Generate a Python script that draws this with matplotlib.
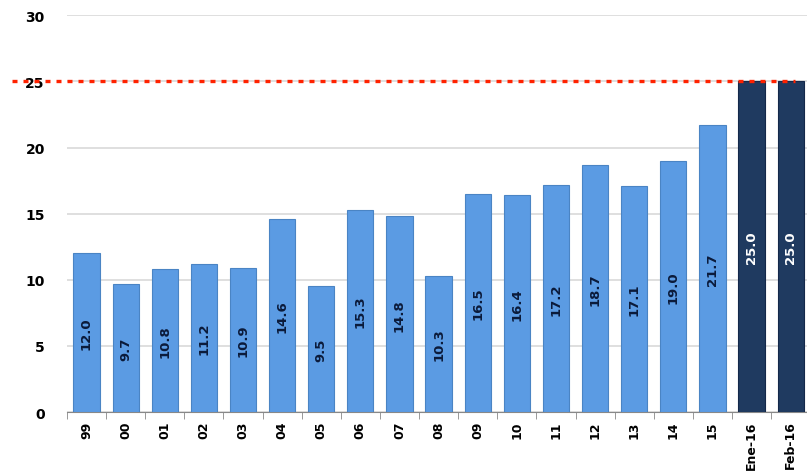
import matplotlib.pyplot as plt
import numpy as np

# data
years = ["99", "00", "01", "02", "03", "04", "05", "06", "07", "08",
         "09", "10", "11", "12", "13", "14", "15", "Ene-16", "Feb-16"]
values = [12.0, 9.7, 10.8, 11.2, 10.9, 14.6, 9.5, 15.3, 14.8, 10.3,
          16.5, 16.4, 17.2, 18.7, 17.1, 19.0, 21.7, 25.0, 25.0]
dark_bars = ["Ene-16", "Feb-16"]
limit = 25

fig = plt.figure(figsize=(8.07, 4.77), dpi=100)
ax = fig.add_axes([0.083, 0.134, 0.921, 0.832])

x = np.arange(len(years))
colors = ["#1F3A60" if y in dark_bars else "#5B9BE3" for y in years]
edges = ["#14284A" if y in dark_bars else "#4A84C4" for y in years]
ax.bar(x, values, width=0.67, color=colors, edgecolor=edges, linewidth=0.8, zorder=3)

# value labels inside bars
for xi, v, y in zip(x, values, years):
    tc = "white" if y in dark_bars else "#0B1A3A"
    ax.text(xi, v / 2, f"{v:.1f}", rotation=90, ha="center", va="center",
            fontsize=9.5, fontweight="bold", color=tc, zorder=4)

# red dotted limit line
ax.hlines(limit, -1.9, 18.1, colors="#FF2200", linewidth=2.4,
          linestyles=(0, (1.5, 1.8)), clip_on=False, zorder=5)

ax.set_xlim(-0.5, len(years) - 0.5)
ax.set_ylim(0, 30)
ax.set_yticks(range(0, 31, 5))
ax.yaxis.grid(True, color="#D9D9D9", linewidth=1.2, zorder=0)

ax.set_xticks(x)
ax.set_xticklabels(years, rotation=90, fontsize=9, fontweight="bold")
ax.set_xticks(np.arange(-0.5, len(years), 1), minor=True)
ax.tick_params(axis="x", which="major", length=0, pad=6)
ax.tick_params(axis="x", which="minor", length=5, color="#888888")
ax.tick_params(axis="y", length=0, pad=16, labelsize=10)
for lab in ax.get_yticklabels():
    lab.set_fontweight("bold")

for s in ["top", "right", "left"]:
    ax.spines[s].set_visible(False)
ax.spines["bottom"].set_color("#888888")

plt.savefig("out.png", dpi=100)
